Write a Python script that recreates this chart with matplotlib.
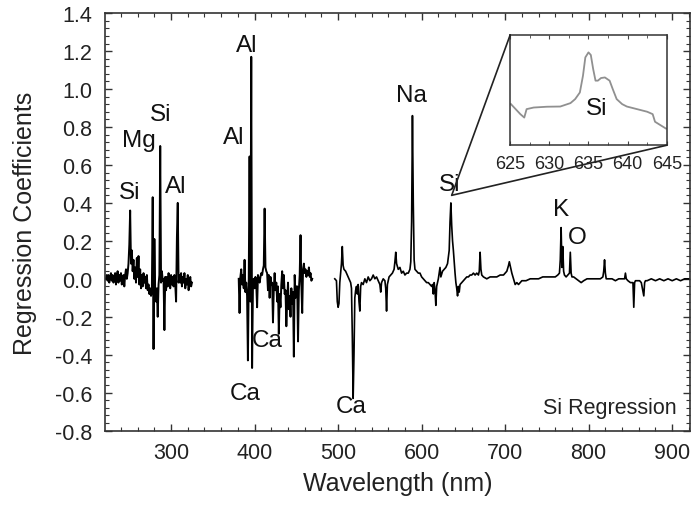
import numpy as np
import matplotlib
matplotlib.use("Agg")
import matplotlib.pyplot as plt
from matplotlib.patches import ConnectionPatch
from matplotlib.ticker import MultipleLocator

plt.rcParams['font.family'] = ['Liberation Sans', 'DejaVu Sans']
plt.rcParams['axes.unicode_minus'] = False

# ---------------- data ----------------
seg1_wl = list(range(222, 326))
seg1_vals = [
    0.00, 0.02, -0.01, 0.02, -0.02, 0.01, 0.03, -0.01, 0.02, -0.02,
    0.00, 0.03, -0.03, 0.01, 0.04, -0.02, 0.02, -0.01, 0.03, -0.03,
    0.01, 0.02, -0.04, 0.02, 0.05, 0.00, 0.03, 0.08, 0.18, 0.36,
    0.08, 0.15, 0.04, 0.10, 0.00, 0.06, -0.02, 0.11, 0.01, 0.12,
    -0.03, 0.05, -0.05, 0.02, -0.04, 0.03, -0.02, 0.01, -0.05, 0.02,
    -0.06, -0.03, -0.08, -0.05, -0.09, -0.06, 0.43, -0.37, 0.21, -0.08,
    -0.12, -0.05, -0.20, -0.03, 0.02, 0.70, -0.02, 0.04, -0.01, 0.00,
    -0.27, 0.01, -0.06, 0.01, -0.04, 0.03, -0.02, -0.05, 0.02, -0.03,
    0.01, -0.04, 0.02, -0.03, -0.12, 0.22, 0.40, -0.02, 0.02, -0.02,
    0.03, -0.04, 0.01, -0.02, 0.03, -0.05, 0.00, -0.03, 0.02, -0.06,
    -0.01, 0.01, -0.04, -0.02,
]

seg2_wl = list(range(381, 470))
seg2_vals = [
    0.00, -0.18, 0.01, 0.05, -0.03, 0.02, -0.05, 0.10, -0.07, -0.02,
    -0.09, -0.43, 0.00, 0.645, -0.12, 1.17, -0.47, -0.05, 0.00, -0.05,
    0.01, -0.03, -0.15, 0.02, 0.00, -0.02, 0.01, 0.03, 0.02, 0.05,
    0.07, 0.37, 0.06, 0.04, 0.03, -0.06, 0.02, -0.10, 0.01, -0.03,
    -0.02, -0.23, -0.05, 0.03, -0.06, -0.02, -0.12, -0.04, -0.29, -0.08,
    -0.15, -0.03, 0.04, -0.05, 0.02, -0.08, -0.06, -0.25, -0.12, -0.02,
    -0.16, -0.09, -0.20, -0.05, -0.13, -0.07, -0.41, 0.02, -0.10, -0.04,
    -0.04, -0.33, -0.06, 0.02, 0.23, -0.03, -0.18, 0.05, 0.08, 0.03,
    0.05, 0.01, 0.04, 0.02, 0.06, 0.01, 0.03, -0.01, 0.00,
]

seg3_points = [
    (496, 0.00), (498, -0.01), (499, -0.12), (500, -0.15), (501, -0.13), (502, -0.02),
    (503, 0.03), (504, 0.08), (505, 0.17), (506, 0.07), (507, 0.05), (509, 0.04),
    (511, 0.02), (513, 0.00), (515, -0.02), (516, -0.05), (517, -0.30), (518, -0.63),
    (519, -0.40), (520, -0.10), (521, -0.06), (522, -0.04), (523, -0.08), (524, -0.03),
    (525, -0.12), (526, -0.17), (527, -0.04), (528, -0.02), (530, -0.03), (532, 0.00),
    (534, -0.02), (536, 0.01), (538, -0.01), (540, 0.00), (542, 0.02), (544, 0.00),
    (546, 0.01), (548, -0.01), (550, -0.03), (551, -0.07), (552, -0.02), (554, 0.00),
    (556, -0.01), (557, -0.05), (558, -0.17), (559, -0.03), (561, 0.01), (563, 0.02),
    (565, 0.03), (567, 0.05), (568, 0.09), (569, 0.14), (570, 0.08), (572, 0.05),
    (574, 0.06), (576, 0.03), (578, 0.04), (580, 0.02), (582, 0.03), (584, 0.03),
    (586, 0.05), (587, 0.09), (588, 0.30), (589, 0.86), (590, 0.40), (591, 0.10),
    (592, 0.05), (594, 0.04), (596, 0.03), (598, 0.03), (600, 0.01), (602, 0.00),
    (604, -0.01), (606, -0.02), (608, -0.02), (610, -0.03), (612, -0.04), (613, -0.03),
    (614, -0.08), (615, -0.02), (616, -0.06), (617, -0.14), (618, -0.04), (620, 0.00),
    (621, 0.03), (622, 0.06), (623, 0.01), (625, 0.04), (627, 0.05), (629, 0.06),
    (631, 0.08), (633, 0.15), (634, 0.30), (635, 0.40), (636, 0.28), (637, 0.20),
    (638, 0.15), (639, 0.09), (640, 0.03), (641, -0.02), (642, -0.05), (643, -0.09),
    (644, -0.04), (645, -0.07), (646, -0.03), (648, -0.02), (650, -0.01), (652, 0.00),
    (654, 0.01), (656, 0.01), (658, 0.02), (660, 0.02), (662, 0.03), (664, 0.02),
    (666, 0.03), (668, 0.02), (669, 0.04), (670, 0.14), (671, 0.05), (672, 0.02),
    (674, 0.01), (678, 0.00), (682, 0.01), (686, 0.01), (690, 0.01), (694, 0.02),
    (698, 0.02), (700, 0.03), (702, 0.04), (704, 0.07), (705, 0.09), (706, 0.07),
    (708, 0.03), (710, 0.00), (712, -0.03), (714, -0.02), (716, -0.03), (720, -0.01),
    (725, -0.01), (730, 0.00), (735, 0.00), (740, 0.00), (745, 0.01), (750, 0.01),
    (755, 0.01), (760, 0.01), (763, 0.02), (765, 0.03), (766, 0.10), (767, 0.27),
    (768, 0.06), (769, 0.17), (770, 0.04), (771, 0.02), (773, 0.01), (775, 0.02),
    (777, 0.03), (778, 0.14), (779, 0.03), (780, 0.01), (782, 0.01), (785, 0.00),
    (788, -0.01), (791, -0.02), (794, -0.01), (798, 0.00), (802, 0.00), (806, 0.00),
    (810, 0.00), (814, 0.00), (817, 0.01), (818, 0.04), (819, 0.10), (820, 0.03),
    (821, 0.00), (824, 0.00), (828, 0.00), (832, -0.01), (836, 0.00), (840, 0.00),
    (843, 0.00), (844, 0.03), (845, 0.00), (847, -0.01), (850, -0.02), (853, -0.02),
    (854, -0.15), (855, -0.02), (856, -0.01), (858, -0.01), (861, -0.01), (863, -0.02),
    (866, -0.09), (867, -0.02), (868, -0.01), (870, -0.01), (875, 0.00), (880, -0.01),
    (885, 0.00), (890, -0.01), (895, 0.00), (900, -0.01), (905, 0.00), (910, -0.01),
    (915, 0.00), (920, 0.00),
]

inset_wl = [625.1, 626.3, 626.8, 627.1, 628.0, 629.7, 631.4, 632.7, 633.3, 633.9,
            634.3, 634.6, 635.0, 635.3, 635.6, 635.9, 636.2, 636.6, 637.1, 637.7,
            638.1, 638.6, 639.3, 639.9, 641.2, 642.5, 643.2, 643.5, 644.2, 644.9]
inset_vals = [0.105, 0.055, 0.038, 0.080, 0.088, 0.092, 0.093, 0.110, 0.130, 0.163,
              0.247, 0.338, 0.363, 0.350, 0.280, 0.222, 0.222, 0.235, 0.238, 0.222,
              0.180, 0.130, 0.105, 0.093, 0.080, 0.067, 0.055, 0.017, 0.000, -0.017]

peak_labels = ["Si", "Mg", "Si", "Al", "Al", "Al", "Ca", "Ca", "Ca", "Na", "Si", "K", "O"]
label_wl = [250, 261, 288, 306, 391, 375, 415, 389, 516, 588, 634, 767, 786]
label_val = [0.46, 0.73, 0.87, 0.49, 1.23, 0.75, -0.32, -0.60, -0.67, 0.97, 0.50, 0.37, 0.22]

x_ticks = [300, 400, 500, 600, 700, 800, 900]
y_ticks = [-0.8, -0.6, -0.4, -0.2, 0.0, 0.2, 0.4, 0.6, 0.8, 1.0, 1.2, 1.4]
inset_ticks = [625, 630, 635, 640, 645]
zoom_point = (636, 0.44)

# ---------------- figure ----------------
fig = plt.figure(figsize=(6.96, 5.06), dpi=100)
ax = fig.add_axes([0.151, 0.147, 0.840, 0.825])

ax.plot(seg1_wl, seg1_vals, color='black', lw=1.4)
ax.plot(seg2_wl, seg2_vals, color='black', lw=1.4)
s3x = [p[0] for p in seg3_points]
s3y = [p[1] for p in seg3_points]
ax.plot(s3x, s3y, color='black', lw=1.2)

ax.set_xlim(221, 921)
ax.set_ylim(-0.8, 1.4)
ax.set_xticks(x_ticks)
ax.set_yticks(y_ticks)
ax.set_yticklabels([f"{v:.1f}" for v in y_ticks])
ax.xaxis.set_minor_locator(MultipleLocator(20))
ax.yaxis.set_minor_locator(MultipleLocator(0.04))
ax.tick_params(which='both', direction='in', top=True, right=True, labelsize=15.5,
               color='#333333', labelcolor='#222222')
ax.tick_params(which='major', length=5, width=1.0)
ax.tick_params(axis='y', which='major', pad=9)
ax.tick_params(axis='x', which='major', pad=8)
ax.tick_params(which='minor', length=3, width=0.8)
for s in ax.spines.values():
    s.set_linewidth(1.2)
    s.set_color('#333333')

ax.set_xlabel("Wavelength (nm)", fontsize=18, color='#222222', labelpad=6)
ax.set_ylabel("Regression Coefficients", fontsize=18, color='#222222', labelpad=13)

for t, x, y in zip(peak_labels, label_wl, label_val):
    ax.text(x, y, t, fontsize=17.5, ha='center', va='center', color='#111111')

ax.text(0.977, 0.055, "Si Regression", transform=ax.transAxes, fontsize=15.5,
        ha='right', va='center', color='#222222')

# ---------------- inset ----------------
axins = fig.add_axes([0.733, 0.711, 0.225, 0.218])
axins.plot(inset_wl, inset_vals, color='#909090', lw=1.3)
axins.set_xlim(625, 645)
axins.set_ylim(-0.1, 0.45)
axins.set_xticks(inset_ticks)
axins.set_yticks([])
axins.xaxis.set_minor_locator(MultipleLocator(2.5))
axins.tick_params(which='both', direction='in', top=True, labelsize=13, pad=7,
                  color='#444444', labelcolor='#222222')
axins.tick_params(which='major', length=3)
axins.tick_params(which='minor', length=2)
for s in axins.spines.values():
    s.set_linewidth(1.1)
    s.set_color('#333333')
axins.text(636.0, 0.088, "Si", fontsize=17.5, ha='center', va='center', color='#111111')

for xyA in [(0, 1), (1, 0)]:
    con = ConnectionPatch(xyA=xyA, coordsA=axins.transAxes, xyB=zoom_point,
                          coordsB=ax.transData, color='#222222', lw=1.2)
    fig.add_artist(con)

fig.savefig("out.png", dpi=100)
